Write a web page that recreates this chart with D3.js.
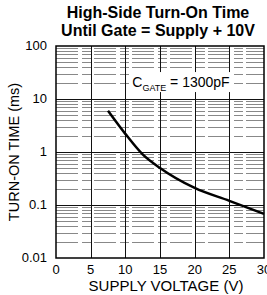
<!DOCTYPE html>
<html>
<head>
<meta charset="utf-8">
<script src="https://cdn.jsdelivr.net/npm/d3@7"></script>
<style>
  body { margin: 0; background: #fff; }
  text { font-family: "Liberation Sans", Arial, sans-serif; fill: #000; }
</style>
</head>
<body>
<script>
const w = 267;
const h = 295;

// curve: supply voltage (V) vs turn-on time (ms)
const supplyV = [7.5, 10, 12.5, 15, 20, 25, 30];
const turnOnMs = [6, 2.2, 0.9, 0.5, 0.21, 0.12, 0.068];
const xTicks = [0, 5, 10, 15, 20, 25, 30];
const yTicks = [0.01, 0.1, 1, 10, 100];
const yTickLabels = ["0.01", "0.1", "1", "10", "100"];

const m = {left: 56, right: 3, top: 46, bottom: 37};

const svg = d3.select("body")
              .append("svg")
              .attr("width", w)
              .attr("height", h);

const x = d3.scaleLinear().domain([0, 30]).range([m.left, w - m.right]);
const y = d3.scaleLog().domain([0.01, 100]).range([h - m.bottom, m.top]);

// minor horizontal lines (2..9 in each decade)
var minor = [];
for (var d = 0.01; d < 100; d *= 10) {
  for (var k = 2; k <= 9; k++) minor.push(d * k);
}
svg.append("g")
   .selectAll("line")
   .data(minor)
   .enter()
   .append("line")
   .attr("x1", x(0))
   .attr("x2", x(30))
   .attr("y1", d => Math.round(y(d)) + 0.5)
   .attr("y2", d => Math.round(y(d)) + 0.5)
   .attr("stroke", "#888")
   .attr("stroke-width", 1)
   .attr("stroke-dasharray", "22,4,9,3");

// decade lines
svg.append("g")
   .selectAll("line")
   .data(yTicks.slice(1, -1))
   .enter()
   .append("line")
   .attr("x1", x(0))
   .attr("x2", x(30))
   .attr("y1", d => Math.round(y(d)) + 0.5)
   .attr("y2", d => Math.round(y(d)) + 0.5)
   .attr("stroke", "#111")
   .attr("stroke-width", 1.2);

// vertical grid
svg.append("g")
   .selectAll("line")
   .data(xTicks.slice(1, -1))
   .enter()
   .append("line")
   .attr("x1", d => Math.round(x(d)) + 0.5)
   .attr("x2", d => Math.round(x(d)) + 0.5)
   .attr("y1", y(100))
   .attr("y2", y(0.01))
   .attr("stroke", "#111")
   .attr("stroke-width", 1);

// frame
svg.append("rect")
   .attr("x", x(0))
   .attr("y", y(100))
   .attr("width", x(30) - x(0))
   .attr("height", y(0.01) - y(100))
   .attr("fill", "none")
   .attr("stroke", "#000")
   .attr("stroke-width", 1.5);

// annotation with white backing
svg.append("rect")
   .attr("x", x(10.8))
   .attr("y", y(20) - 11)
   .attr("width", 102)
   .attr("height", 20)
   .attr("fill", "#fff");
const ann = svg.append("text")
   .attr("x", x(11))
   .attr("y", y(20) + 4)
   .style("font-size", "14px");
ann.append("tspan").text("C");
ann.append("tspan").attr("dy", 4).style("font-size", "9px").text("GATE");
ann.append("tspan").attr("dy", -4).text(" = 1300pF");

// curve
const line = d3.line()
   .x((d, i) => x(supplyV[i]))
   .y((d, i) => y(turnOnMs[i]))
   .curve(d3.curveMonotoneX);
svg.append("path")
   .datum(supplyV)
   .attr("d", line)
   .attr("fill", "none")
   .attr("stroke", "#000")
   .attr("stroke-width", 2.5);

// axes labels
svg.append("g")
   .selectAll("text")
   .data(xTicks)
   .enter()
   .append("text")
   .attr("x", d => x(d))
   .attr("y", h - m.bottom + 16)
   .attr("text-anchor", "middle")
   .style("font-size", "13px")
   .text(d => d);

svg.append("g")
   .selectAll("text")
   .data(yTicks)
   .enter()
   .append("text")
   .attr("x", m.left - 9)
   .attr("y", d => y(d) + 4)
   .attr("text-anchor", "end")
   .style("font-size", "13px")
   .text((d, i) => yTickLabels[i]);

svg.append("text")
   .attr("x", (x(0) + x(30)) / 2 + 6)
   .attr("y", h - 4)
   .attr("text-anchor", "middle")
   .style("font-size", "15px")
   .text("SUPPLY VOLTAGE (V)");

svg.append("text")
   .attr("transform", "translate(19," + ((y(100) + y(0.01)) / 2) + ") rotate(-90)")
   .attr("text-anchor", "middle")
   .style("font-size", "14.5px")
   .text("TURN-ON TIME (ms)");

// title
svg.append("text")
   .attr("x", 158)
   .attr("y", 18)
   .attr("text-anchor", "middle")
   .style("font-size", "16px")
   .style("font-weight", "bold")
   .text("High-Side Turn-On Time");
svg.append("text")
   .attr("x", 158)
   .attr("y", 36)
   .attr("text-anchor", "middle")
   .style("font-size", "16px")
   .style("font-weight", "bold")
   .text("Until Gate = Supply + 10V");
</script>
</body>
</html>
